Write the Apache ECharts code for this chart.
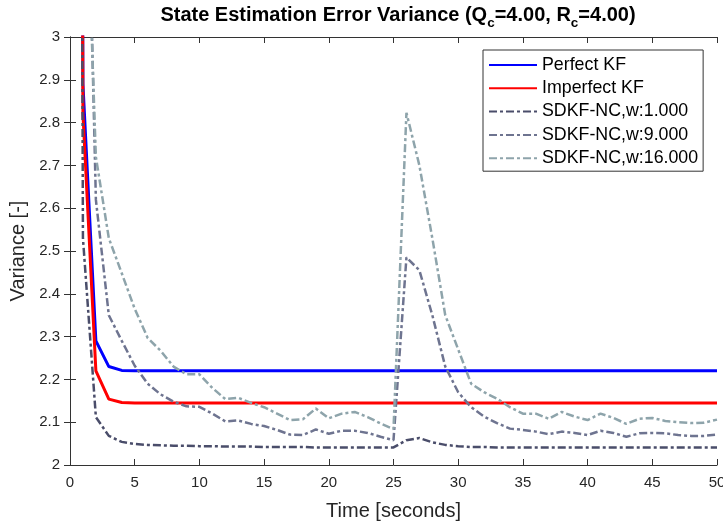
<!DOCTYPE html>
<html>
<head>
<meta charset="utf-8">
<script src="https://cdn.jsdelivr.net/npm/echarts@6/dist/echarts.min.js"></script>
<style>
html,body{margin:0;padding:0;background:#fff;}
#chart{width:723px;height:522px;}
</style>
</head>
<body>
<div id="chart"></div>
<script>
// time in seconds
var times = [0,1,2,3,4,5,6,7,8,9,10,11,12,13,14,15,16,17,18,19,20,21,22,23,24,25,26,27,28,29,30,31,32,33,34,35,36,37,38,39,40,41,42,43,44,45,46,47,48,49,50];

var perfectKF = [12,2.89,2.29,2.23,2.221,2.22,2.22,2.22,2.22,2.22,2.22,2.22,2.22,2.22,2.22,2.22,2.22,2.22,2.22,2.22,2.22,2.22,2.22,2.22,2.22,2.22,2.22,2.22,2.22,2.22,2.22,2.22,2.22,2.22,2.22,2.22,2.22,2.22,2.22,2.22,2.22,2.22,2.22,2.22,2.22,2.22,2.22,2.22,2.22,2.22,2.22];

var imperfectKF = [12,2.82,2.22,2.154,2.146,2.145,2.145,2.145,2.145,2.145,2.145,2.145,2.145,2.145,2.145,2.145,2.145,2.145,2.145,2.145,2.145,2.145,2.145,2.145,2.145,2.145,2.145,2.145,2.145,2.145,2.145,2.145,2.145,2.145,2.145,2.145,2.145,2.145,2.145,2.145,2.145,2.145,2.145,2.145,2.145,2.145,2.145,2.145,2.145,2.145,2.145];

var sdkfW1 = [12,2.53,2.112,2.068,2.054,2.049,2.047,2.046,2.045,2.045,2.044,2.044,2.043,2.043,2.043,2.042,2.042,2.042,2.042,2.041,2.041,2.041,2.041,2.041,2.041,2.041,2.058,2.063,2.053,2.047,2.044,2.042,2.042,2.041,2.041,2.041,2.041,2.041,2.041,2.041,2.041,2.041,2.041,2.041,2.041,2.041,2.041,2.041,2.041,2.041,2.041];

var sdkfW9 = [12,3.9,2.62,2.35,2.29,2.232,2.19,2.165,2.148,2.137,2.136,2.12,2.102,2.104,2.096,2.091,2.082,2.071,2.07,2.083,2.073,2.08,2.08,2.075,2.066,2.058,2.485,2.455,2.35,2.23,2.17,2.135,2.113,2.098,2.085,2.082,2.078,2.072,2.078,2.075,2.07,2.08,2.075,2.066,2.074,2.075,2.074,2.07,2.068,2.068,2.071];

var sdkfW16 = [12,3.6,2.72,2.53,2.448,2.365,2.297,2.267,2.23,2.212,2.212,2.18,2.154,2.157,2.145,2.135,2.12,2.105,2.107,2.132,2.109,2.12,2.124,2.112,2.097,2.084,2.823,2.70,2.53,2.35,2.27,2.19,2.17,2.155,2.135,2.12,2.12,2.108,2.124,2.113,2.105,2.12,2.11,2.096,2.108,2.11,2.103,2.1,2.098,2.099,2.106];

var seriesNames = ['Perfect KF','Imperfect KF','SDKF-NC,w:1.000','SDKF-NC,w:9.000','SDKF-NC,w:16.000'];
var yTicks = [2,2.1,2.2,2.3,2.4,2.5,2.6,2.7,2.8,2.9,3];
var xTicks = [0,5,10,15,20,25,30,35,40,45,50];

function pairs(vals){ return times.map(function(t,i){ return [t, vals[i]]; }); }

var FONT = '"Liberation Sans", Arial, Helvetica, sans-serif';
var AX = '#333333';
var TXT = '#262626';
var dashDot = [8,3,3,3];

var styles = [
  {color:'#0000ff', width:3, type:'solid'},
  {color:'#ff0000', width:3, type:'solid'},
  {color:'#4a4d6a', width:2.5, type:dashDot},
  {color:'#6e7490', width:2.5, type:dashDot},
  {color:'#8ea4ab', width:2.5, type:dashDot}
];
var allData = [perfectKF, imperfectKF, sdkfW1, sdkfW9, sdkfW16];

var series = allData.map(function(d,i){
  return {
    name: seriesNames[i], type:'line', data: pairs(d),
    xAxisIndex:0, yAxisIndex:0,
    symbol:'none', showSymbol:false, clip:true, animation:false,
    lineStyle:{color:styles[i].color, width:styles[i].width, type:styles[i].type},
    itemStyle:{color:styles[i].color}
  };
});

var chart = echarts.init(document.getElementById('chart'), null, {renderer:'canvas'});
chart.setOption({
  backgroundColor:'#ffffff',
  animation:false,
  title:{
    left:393, textAlign:'center', top:-4,
    text:'{b|State Estimation Error Variance (Q}{s|c}{b|=4.00, R}{s|c}{b|=4.00)}',
    textStyle:{
      rich:{
        b:{fontFamily:FONT, fontSize:20, fontWeight:'bold', color:'#000', lineHeight:29, verticalAlign:'middle'},
        s:{fontFamily:FONT, fontSize:13.5, fontWeight:'bold', color:'#000', lineHeight:29, verticalAlign:'bottom'}
      }
    }
  },
  grid:{left:70, right:6, top:37, bottom:57, containLabel:false, outerBoundsMode:'none'},
  legend:{
    orient:'vertical', left:483, top:50,
    backgroundColor:'#ffffff', borderColor:'#333333', borderWidth:1,
    padding:[5,5,3,5], itemGap:3.3, itemWidth:48, itemHeight:14,
    itemStyle:{opacity:0},
    textStyle:{fontFamily:FONT, fontSize:17.8, color:'#000', lineHeight:20},
    data: seriesNames
  },
  xAxis:[
    {type:'value', min:0, max:50, interval:5, position:'bottom',
     name:'Time [seconds]', nameLocation:'middle', nameGap:36,
     nameTextStyle:{fontFamily:FONT, fontSize:20, color:TXT},
     axisLine:{lineStyle:{color:AX, width:1}},
     axisTick:{inside:true, length:6, lineStyle:{color:AX}},
     axisLabel:{fontFamily:FONT, fontSize:15, color:TXT, margin:10},
     splitLine:{show:false}},
    {type:'value', min:0, max:50, interval:5, position:'top',
     axisLine:{lineStyle:{color:AX, width:1}},
     axisTick:{inside:true, length:6, lineStyle:{color:AX}},
     axisLabel:{show:false}, splitLine:{show:false}}
  ],
  yAxis:[
    {type:'value', min:2, max:3, interval:0.1, position:'left',
     name:'Variance [-]', nameLocation:'middle', nameGap:40,
     nameTextStyle:{fontFamily:FONT, fontSize:20, color:TXT},
     axisLine:{show:true, lineStyle:{color:AX, width:1}},
     axisTick:{show:true, inside:true, length:6, lineStyle:{color:AX}},
     axisLabel:{fontFamily:FONT, fontSize:15, color:TXT, margin:10,
       formatter:function(v){ return String(parseFloat(v.toFixed(1))); }},
     splitLine:{show:false}},
    {type:'value', min:2, max:3, interval:0.1, position:'right',
     axisLine:{show:true, lineStyle:{color:AX, width:1}},
     axisTick:{show:true, inside:true, length:6, lineStyle:{color:AX}},
     axisLabel:{show:false}, splitLine:{show:false}}
  ],
  series: series
});
</script>
</body>
</html>
